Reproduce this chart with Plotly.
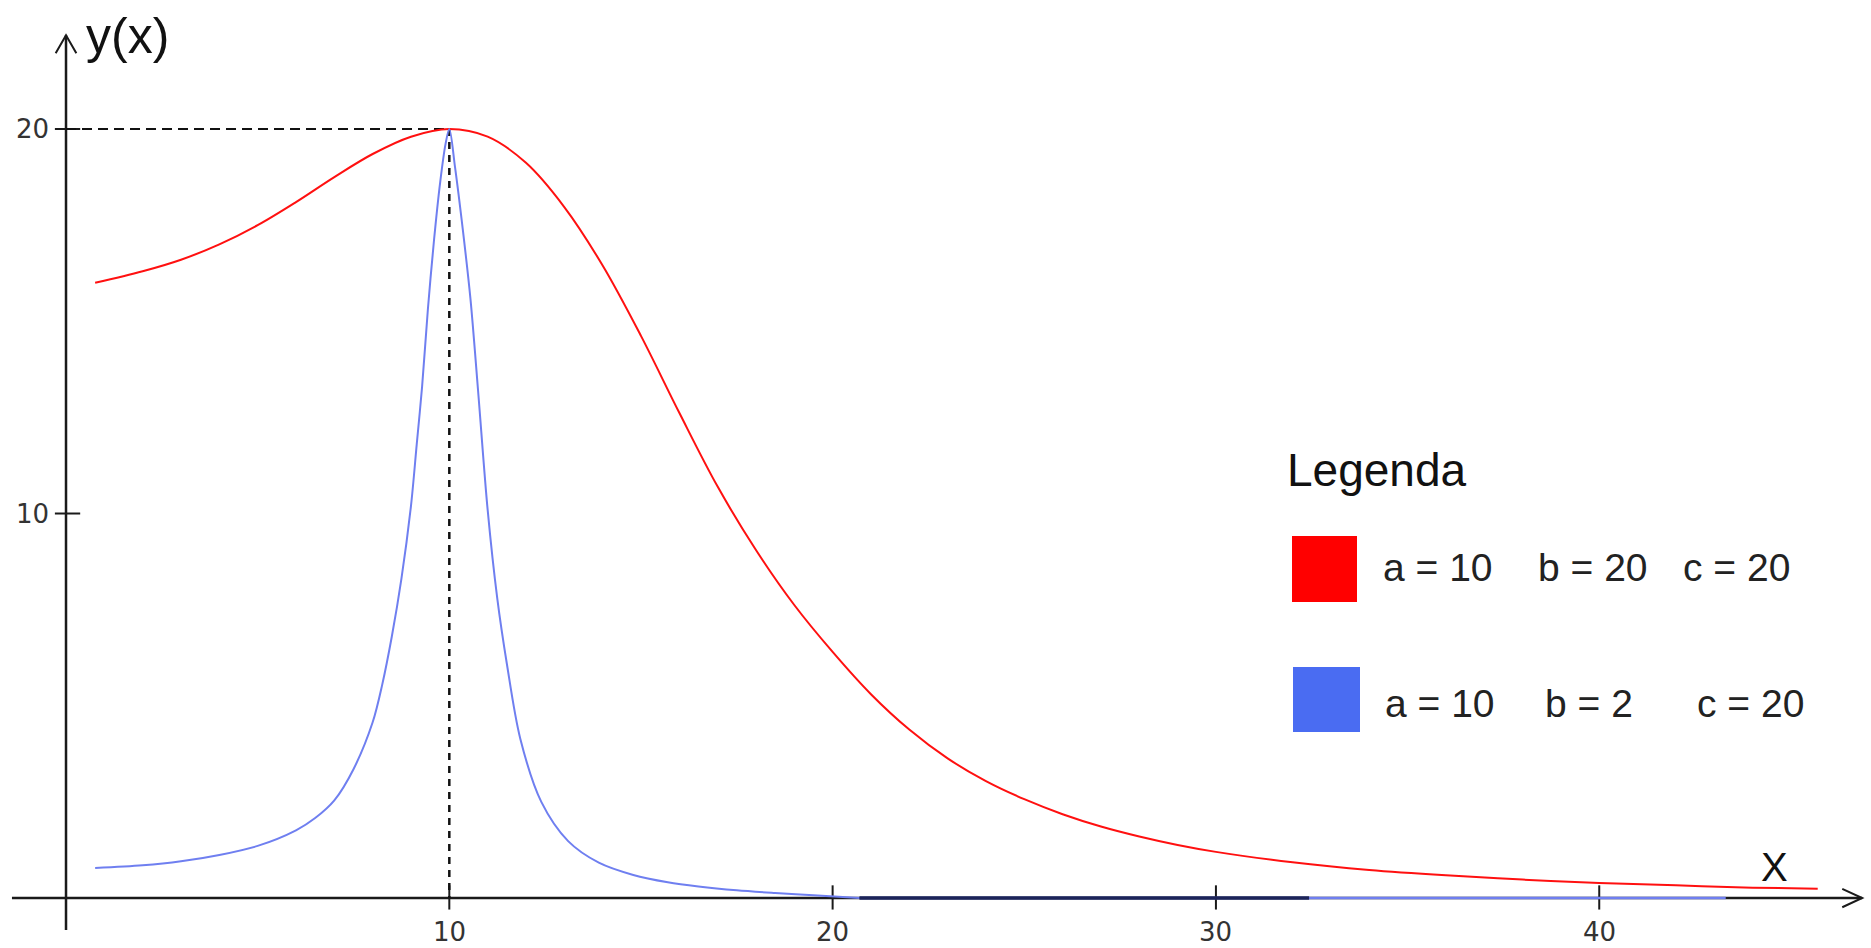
import plotly.graph_objects as go

# ---------------- data ----------------
red_x = [0.76, 2, 3, 4, 5, 6, 7, 8, 9, 10, 11, 12, 13, 14, 15, 16, 17, 18, 19,
         20, 21, 22, 23, 24, 25, 26, 27, 28, 29, 30, 32, 34, 36, 38, 40, 42,
         44, 45.7]
red_y = [16.0, 16.3, 16.6, 17.0, 17.5, 18.1, 18.75, 19.35, 19.8, 20.0, 19.8,
         19.12, 17.97, 16.45, 14.62, 12.62, 10.7, 9.05, 7.62, 6.4, 5.3, 4.38,
         3.63, 3.04, 2.57, 2.18, 1.86, 1.6, 1.38, 1.2, 0.93, 0.73, 0.59, 0.48,
         0.39, 0.33, 0.27, 0.24]

blue_x = [0.76, 2, 3, 4, 5, 6, 6.5, 7, 7.5, 8, 8.25, 8.5, 8.75, 9, 9.15, 9.29,
          9.44, 9.6, 9.76, 9.9, 10.0, 10.15, 10.35, 10.55, 10.75, 11.0, 11.25,
          11.5, 11.85, 12.4, 13.1, 13.9, 14.8, 15.7, 16.5, 17.5, 18.5, 19.5,
          20.7]
blue_y = [0.78, 0.85, 0.955, 1.12, 1.355, 1.76, 2.08, 2.54, 3.35, 4.57, 5.55,
          6.8, 8.3, 10.2, 11.8, 13.3, 15.3, 17.1, 18.6, 19.6, 20.0, 19.0, 17.4,
          15.6, 13.2, 10.1, 7.8, 6.1, 4.15, 2.5, 1.48, 0.92, 0.6, 0.41, 0.3,
          0.2, 0.13, 0.07, 0.0]

# flat part of the blue curve lying on the x axis
blue_flat_x = [20.7, 43.3]
blue_flat_y = [0.0, 0.0]

# dark stretch where the blue curve overlaps the x axis
overlap_x = [20.7, 32.43]
overlap_y = [0.0, 0.0]

peak_x = 10
peak_y = 20

x_ticks = [10, 20, 30, 40]
y_ticks = [10, 20]

legend_title = "Legenda"
legend_colors = ["#ff0000", "#4a6cf2"]
legend_rows = [["a = 10", "b = 20", "c = 20"],
               ["a = 10", "b = 2", "c = 20"]]

# ---------------- figure ----------------
W, H = 1871, 948
X_RANGE = [-1.722, 47.09]
Y_RANGE = [-1.30, 23.355]

fig = go.Figure()

fig.add_trace(go.Scatter(x=red_x, y=red_y, mode="lines",
                         line=dict(color="#ff1010", width=2, shape="spline", smoothing=1.0),
                         hoverinfo="skip", showlegend=False))
fig.add_trace(go.Scatter(x=blue_flat_x, y=blue_flat_y, mode="lines",
                         line=dict(color="#6f7ff0", width=2.5),
                         hoverinfo="skip", showlegend=False))
fig.add_trace(go.Scatter(x=blue_x, y=blue_y, mode="lines",
                         line=dict(color="#6f7ff0", width=2, shape="spline", smoothing=0.9),
                         hoverinfo="skip", showlegend=False))
fig.add_trace(go.Scatter(x=overlap_x, y=overlap_y, mode="lines",
                         line=dict(color="#1c2459", width=3.5),
                         hoverinfo="skip", showlegend=False))

axis_col = "#1a1a1a"
shapes = []
# axes
x_end, y_end = 46.86, 22.44
shapes.append(dict(type="line", xref="x", yref="y", x0=-1.41, x1=x_end, y0=0, y1=0,
                   line=dict(color=axis_col, width=2.5), layer="below"))
shapes.append(dict(type="line", xref="x", yref="y", x0=0, x1=0, y0=-0.83, y1=y_end,
                   line=dict(color=axis_col, width=2.5), layer="below"))
# arrow heads (open chevrons)
shapes.append(dict(type="path", xref="x", yref="y",
                   path=f"M {x_end-0.52},0.24 L {x_end},0 L {x_end-0.52},-0.24",
                   line=dict(color=axis_col, width=2), layer="below"))
shapes.append(dict(type="path", xref="x", yref="y",
                   path=f"M -0.27,{y_end-0.47} L 0,{y_end} L 0.27,{y_end-0.47}",
                   line=dict(color=axis_col, width=2), layer="below"))
# ticks
for t in x_ticks:
    shapes.append(dict(type="line", xref="x", yref="y", x0=t, x1=t, y0=0.33, y1=-0.30,
                       line=dict(color=axis_col, width=2), layer="below"))
for t in y_ticks:
    shapes.append(dict(type="line", xref="x", yref="y", x0=-0.29, x1=0.37, y0=t, y1=t,
                       line=dict(color=axis_col, width=2), layer="below"))
# dashed guide lines to the peak
shapes.append(dict(type="line", xref="x", yref="y", x0=0, x1=peak_x, y0=peak_y, y1=peak_y,
                   line=dict(color="#111", width=2, dash="10px,6px"), layer="below"))
shapes.append(dict(type="line", xref="x", yref="y", x0=peak_x, x1=peak_x, y0=peak_y, y1=0,
                   line=dict(color="#111", width=2.5, dash="7px,6px"), layer="below"))

# legend squares
sq = [(1292, 536, 1357, 602), (1293, 667, 1360, 732)]
for (x0, y0, x1, y1), col in zip(sq, legend_colors):
    shapes.append(dict(type="rect", xref="paper", yref="paper",
                       x0=x0 / W, x1=x1 / W, y0=1 - y1 / H, y1=1 - y0 / H,
                       fillcolor=col, line=dict(width=0)))

annotations = []
tick_font = dict(family="DejaVu Sans", size=26, color="#333")
for t in x_ticks:
    annotations.append(dict(x=t, y=-0.88, xref="x", yref="y", text=str(t), showarrow=False,
                            xanchor="center", yanchor="middle", font=tick_font))
for t in y_ticks:
    annotations.append(dict(x=-0.39, y=t, xref="x", yref="y", text=str(t), showarrow=False,
                            xanchor="right", yanchor="middle", font=tick_font))

lab_font = dict(family="Liberation Sans, Arial", size=50, color="#111")
annotations.append(dict(x=84 / W, y=1 - 36 / H, xref="paper", yref="paper", text="y(x)",
                        showarrow=False, xanchor="left", yanchor="middle", font=lab_font))
annotations.append(dict(x=1774 / W, y=1 - 867 / H, xref="paper", yref="paper", text="X",
                        showarrow=False, xanchor="center", yanchor="middle",
                        font=dict(family="Liberation Sans, Arial", size=40, color="#111")))

annotations.append(dict(x=1285 / W, y=1 - 470 / H, xref="paper", yref="paper", text=legend_title,
                        showarrow=False, xanchor="left", yanchor="middle",
                        font=dict(family="Liberation Sans, Arial", size=46, color="#111")))
row_y = [567, 703]
row_x = [[1381, 1536, 1681], [1383, 1543, 1695]]
for r, row in enumerate(legend_rows):
    for c, txt in enumerate(row):
        annotations.append(dict(x=row_x[r][c] / W, y=1 - row_y[r] / H, xref="paper", yref="paper",
                                text=txt, showarrow=False, xanchor="left", yanchor="middle",
                                font=dict(family="Liberation Sans, Arial", size=39, color="#222")))

fig.update_layout(
    width=W, height=H, autosize=False,
    margin=dict(l=0, r=0, t=0, b=0, pad=0),
    paper_bgcolor="white", plot_bgcolor="white",
    xaxis=dict(range=X_RANGE, visible=False, fixedrange=True),
    yaxis=dict(range=Y_RANGE, visible=False, fixedrange=True),
    shapes=shapes, annotations=annotations, showlegend=False,
)

fig.write_html("out.html", config={"displayModeBar": False})
